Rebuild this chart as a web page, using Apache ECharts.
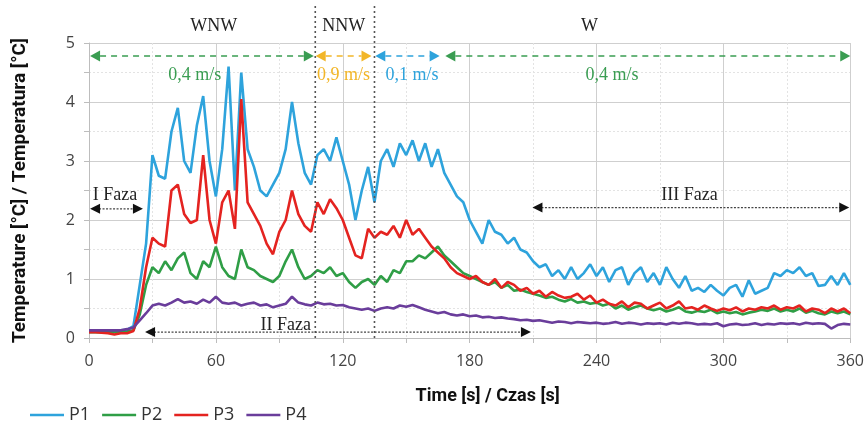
<!DOCTYPE html>
<html>
<head>
<meta charset="utf-8">
<script src="https://cdn.jsdelivr.net/npm/echarts@6/dist/echarts.min.js"></script>
<style>
  html, body { margin: 0; padding: 0; background: #fff; }
  #chart { width: 867px; height: 427px; }
</style>
</head>
<body>
<div id="chart"></div>
<script>
// czas pomiaru [s]
const time = [
  0, 3, 6, 9, 12, 15, 18, 21, 24, 27,
  30, 33, 36, 39, 42, 45, 48, 51, 54, 57,
  60, 63, 66, 69, 72, 75, 78, 81, 84, 87,
  90, 93, 96, 99, 102, 105, 108, 111, 114, 117,
  120, 123, 126, 129, 132, 135, 138, 141, 144, 147,
  150, 153, 156, 159, 162, 165, 168, 171, 174, 177,
  180, 183, 186, 189, 192, 195, 198, 201, 204, 207,
  210, 213, 216, 219, 222, 225, 228, 231, 234, 237,
  240, 243, 246, 249, 252, 255, 258, 261, 264, 267,
  270, 273, 276, 279, 282, 285, 288, 291, 294, 297,
  300, 303, 306, 309, 312, 315, 318, 321, 324, 327,
  330, 333, 336, 339, 342, 345, 348, 351, 354, 357,
  360
];

const p1 = [
  0.13, 0.13, 0.12, 0.13, 0.12, 0.13, 0.14, 0.2, 0.9, 1.6,
  3.1, 2.75, 2.7, 3.5, 3.9, 3.0, 2.8, 3.6, 4.1, 3.0,
  2.4, 3.2, 4.6, 2.5, 4.5, 3.2, 2.9, 2.5, 2.4, 2.6,
  2.8, 3.2, 4.0, 3.3, 2.8, 2.6, 3.1, 3.2, 3.0, 3.4,
  3.0, 2.6, 2.0, 2.5, 2.9, 2.3, 3.0, 3.2, 2.9, 3.3,
  3.1, 3.35, 3.0, 3.3, 2.9, 3.2, 2.8, 2.6, 2.4, 2.3,
  2.0, 1.8, 1.6, 2.0, 1.8, 1.75, 1.6, 1.7, 1.5, 1.45,
  1.3, 1.2, 1.25, 1.05, 1.15, 1.0, 1.2, 1.0, 1.1, 1.25,
  1.05, 1.2, 0.95, 1.15, 1.2, 0.9, 1.1, 1.2, 0.95, 1.1,
  0.9, 1.2, 1.0, 0.85, 1.05, 0.8, 0.85, 0.78, 0.9, 0.8,
  0.72, 0.85, 0.9, 0.7, 0.98, 0.75, 0.8, 0.85, 1.1, 1.05,
  1.15, 1.1, 1.2, 1.05, 1.1, 0.88, 0.9, 1.05, 0.9, 1.1,
  0.9
];

const p2 = [
  0.1, 0.1, 0.1, 0.1, 0.1, 0.1, 0.11, 0.13, 0.4, 0.9,
  1.2, 1.1, 1.3, 1.15, 1.35, 1.45, 1.1, 1.0, 1.3, 1.2,
  1.55, 1.2, 1.05, 1.0, 1.5, 1.2, 1.15, 1.05, 1.0, 0.95,
  1.05, 1.3, 1.5, 1.2, 1.0, 1.05, 1.15, 1.1, 1.2, 1.05,
  1.1, 0.95, 0.85, 0.95, 1.0, 0.9, 1.05, 0.95, 1.15, 1.1,
  1.3, 1.3, 1.4, 1.35, 1.45, 1.55, 1.4, 1.3, 1.2, 1.1,
  1.05, 1.0, 0.95, 0.9, 0.95, 0.85, 0.9, 0.8, 0.82, 0.78,
  0.75, 0.72, 0.68, 0.7, 0.65, 0.62, 0.66, 0.6, 0.62, 0.58,
  0.6, 0.55, 0.58, 0.5, 0.55, 0.48, 0.52, 0.55, 0.5, 0.47,
  0.5, 0.45, 0.48, 0.52, 0.45, 0.43, 0.46, 0.44, 0.48, 0.42,
  0.45, 0.42, 0.44, 0.4, 0.43, 0.45, 0.48, 0.46, 0.5, 0.45,
  0.48, 0.45, 0.5, 0.43, 0.46, 0.42, 0.4, 0.45, 0.42, 0.45,
  0.4
];

const p3 = [
  0.1, 0.1, 0.09, 0.08, 0.06, 0.08, 0.08, 0.12, 0.5, 1.2,
  1.7, 1.6, 1.55, 2.5, 2.6, 2.1, 1.95, 2.0, 3.1, 2.0,
  1.6, 2.3, 2.5, 1.85, 4.05, 2.3, 2.1, 1.9, 1.6, 1.42,
  1.8, 2.0, 2.5, 2.1, 1.9, 1.8, 2.3, 2.1, 2.35, 2.2,
  2.0, 1.7, 1.4, 1.35, 1.85, 1.7, 1.8, 1.75, 1.9, 1.7,
  2.0, 1.75, 1.85, 1.7, 1.55, 1.45, 1.35, 1.2, 1.1, 1.05,
  1.0, 1.05, 0.95, 0.9, 1.0, 0.85, 0.95, 0.9, 0.8, 0.85,
  0.75, 0.8, 0.7, 0.78, 0.72, 0.68, 0.7, 0.75, 0.65, 0.72,
  0.6, 0.65, 0.58, 0.55, 0.62, 0.52, 0.6, 0.58, 0.5, 0.55,
  0.6, 0.5, 0.55, 0.62, 0.5, 0.52, 0.48, 0.55, 0.5, 0.46,
  0.5, 0.47, 0.52, 0.45, 0.5, 0.48, 0.52, 0.5, 0.55, 0.48,
  0.52, 0.5, 0.55, 0.45, 0.5, 0.48, 0.42, 0.5, 0.45, 0.5,
  0.42
];

const p4 = [
  0.13, 0.13, 0.13, 0.13, 0.13, 0.13, 0.15, 0.18, 0.3, 0.42,
  0.55, 0.58, 0.55, 0.6, 0.66, 0.6, 0.62, 0.58, 0.65, 0.6,
  0.7, 0.6, 0.58, 0.6, 0.55, 0.58, 0.6, 0.55, 0.57, 0.52,
  0.55, 0.58, 0.7, 0.6, 0.57, 0.55, 0.6, 0.57, 0.58, 0.55,
  0.56, 0.52, 0.5, 0.48, 0.5, 0.46, 0.5, 0.52, 0.5, 0.55,
  0.53, 0.56, 0.52, 0.48, 0.45, 0.42, 0.44, 0.4, 0.38, 0.4,
  0.37, 0.38, 0.35, 0.36, 0.34, 0.35, 0.33, 0.32, 0.3, 0.31,
  0.29, 0.3, 0.28, 0.26, 0.28, 0.27, 0.25, 0.27, 0.26, 0.25,
  0.26, 0.24, 0.25, 0.27, 0.24, 0.26, 0.25, 0.23, 0.25, 0.24,
  0.25, 0.23, 0.26, 0.24, 0.26, 0.25, 0.23, 0.24, 0.23, 0.25,
  0.2, 0.23, 0.24, 0.22, 0.23, 0.25, 0.22, 0.24, 0.23, 0.25,
  0.24, 0.25, 0.23, 0.26, 0.24, 0.25, 0.24, 0.16, 0.22, 0.24,
  0.23
];

const seriesNames = ['P1', 'P2', 'P3', 'P4'];
const seriesColors = ['#2ea3dc', '#2f9e46', '#e42320', '#6a3d9b'];

// kierunek i predkosc wiatru (strzalki u gory)
const windY = 4.78;
const windArrows = [
  { from: 0.5, to: 106.3, color: '#3a9d52' },
  { from: 107.2, to: 133.6, color: '#f2b629' },
  { from: 135.4, to: 165.8, color: '#2ea3dc' },
  { from: 168.5, to: 360, color: '#3a9d52' }
];
const windNames = [['WNW', 59], ['NNW', 120.5], ['W', 236.7]];
const windNameY = 5.28;
const speedLabels = [
  ['0,4 m/s', 50, '#3a9d52'],
  ['0,9 m/s', 120.4, '#f2b629'],
  ['0,1 m/s', 152.7, '#2ea3dc'],
  ['0,4 m/s', 247.3, '#3a9d52']
];
const speedY = 4.45;
const dividers = [107, 135];

// fazy
const phases = [
  { name: 'I Faza', from: 0.5, to: 25.5, y: 2.19, textX: 12.3, textY: 2.42 },
  { name: 'II Faza', from: 26.5, to: 209, y: 0.1, textX: 93, textY: 0.22 },
  { name: 'III Faza', from: 209.7, to: 359.5, y: 2.21, textX: 284, textY: 2.42 }
];

const chart = echarts.init(document.getElementById('chart'));

const option = {
  animation: false,
  grid: { left: 89, right: 16, top: 43, bottom: 89 },
  legend: {
    left: 25,
    top: 401,
    icon: 'rect',
    itemWidth: 34,
    itemHeight: 2.5,
    itemGap: 12,
    textStyle: { fontFamily: 'Open Sans', fontSize: 18, color: '#333' },
    data: seriesNames
  },
  xAxis: {
    type: 'value',
    min: 0,
    max: 360,
    interval: 60,
    name: 'Time [s] / Czas [s]',
    nameLocation: 'middle',
    nameGap: 49,
    nameTextStyle: { fontFamily: 'Roboto', fontWeight: 'bold', fontSize: 18, color: '#111', padding: [0, 0, 0, 36] },
    axisLine: { show: true, lineStyle: { color: '#bdbdbd' } },
    axisTick: { show: true, length: 5, lineStyle: { color: '#bdbdbd' } },
    minorTick: { show: true, splitNumber: 2, length: 5, lineStyle: { color: '#bdbdbd' } },
    axisLabel: { fontFamily: 'Open Sans', fontSize: 16, color: '#444', margin: 15 },
    splitLine: { show: true, lineStyle: { color: '#cfcfcf', width: 1 } },
    minorSplitLine: { show: true, lineStyle: { color: '#e3e3e3', type: [2, 2] } }
  },
  yAxis: {
    type: 'value',
    min: 0,
    max: 5,
    interval: 1,
    name: 'Temperature [°C] / Temperatura [°C]',
    nameLocation: 'middle',
    nameGap: 59,
    nameTextStyle: { fontFamily: 'Roboto', fontWeight: 'bold', fontSize: 19, color: '#111' },
    axisLine: { show: true, lineStyle: { color: '#bdbdbd' } },
    axisTick: { show: true, length: 5, lineStyle: { color: '#bdbdbd' } },
    minorTick: { show: true, splitNumber: 2, length: 5, lineStyle: { color: '#bdbdbd' } },
    axisLabel: { fontFamily: 'Open Sans', fontSize: 16, color: '#444', margin: 14 },
    splitLine: { show: true, lineStyle: { color: '#cfcfcf', width: 1 } },
    minorSplitLine: { show: true, lineStyle: { color: '#e3e3e3', type: [2, 2] } }
  },
  series: [p1, p2, p3, p4].map((vals, k) => ({
    name: seriesNames[k],
    type: 'line',
    symbol: 'none',
    color: seriesColors[k],
    lineStyle: { width: 2.6 },
    data: time.map((t, i) => [t, vals[i]])
  }))
};

chart.setOption(option);

// adnotacje w pikselach liczone ze skal wykresu
function px(x, y) { return chart.convertToPixel({ gridIndex: 0 }, [x, y]); }

function arrowHead(tip, dir, color, len, half) {
  const bx = tip[0] - dir * len;
  return {
    type: 'polygon', silent: true, z: 20,
    shape: { points: [[tip[0], tip[1]], [bx, tip[1] - half], [bx, tip[1] + half]] },
    style: { fill: color }
  };
}

function textEl(text, p, color, font) {
  return {
    type: 'text', silent: true, z: 20,
    style: {
      text: text, x: p[0], y: p[1], fill: color, font: font,
      textAlign: 'center', textVerticalAlign: 'middle', align: 'center', verticalAlign: 'middle'
    }
  };
}

const g = [];
const serif = '18px "Liberation Serif", "DejaVu Serif", serif';

dividers.forEach(d => {
  const a = px(d, 0), b = px(d, 5.65);
  g.push({ type: 'line', silent: true, z: 15,
    shape: { x1: a[0], y1: a[1], x2: b[0], y2: b[1] },
    style: { stroke: '#555', lineWidth: 1.6, lineDash: [2, 3] } });
});

windArrows.forEach(w => {
  const a = px(w.from, windY), b = px(w.to, windY);
  g.push({ type: 'line', silent: true, z: 20,
    shape: { x1: a[0] + 10, y1: a[1], x2: b[0] - 10, y2: b[1] },
    style: { stroke: w.color, lineWidth: 1.6, lineDash: [6, 5] } });
  g.push(arrowHead(a, -1, w.color, 10, 5.5));
  g.push(arrowHead(b, 1, w.color, 10, 5.5));
});

windNames.forEach(n => g.push(textEl(n[0], px(n[1], windNameY), '#222', serif)));
speedLabels.forEach(s => g.push(textEl(s[0], px(s[1], speedY), s[2], serif)));

phases.forEach(ph => {
  const a = px(ph.from, ph.y), b = px(ph.to, ph.y);
  g.push({ type: 'line', silent: true, z: 20,
    shape: { x1: a[0] + 9, y1: a[1], x2: b[0] - 9, y2: b[1] },
    style: { stroke: '#444', lineWidth: 1.2, lineDash: [2, 1.5] } });
  g.push(arrowHead(a, -1, '#111', 10, 5));
  g.push(arrowHead(b, 1, '#111', 10, 5));
  g.push(textEl(ph.name, px(ph.textX, ph.textY), '#222', serif));
});

chart.setOption({ graphic: g });
</script>
</body>
</html>
